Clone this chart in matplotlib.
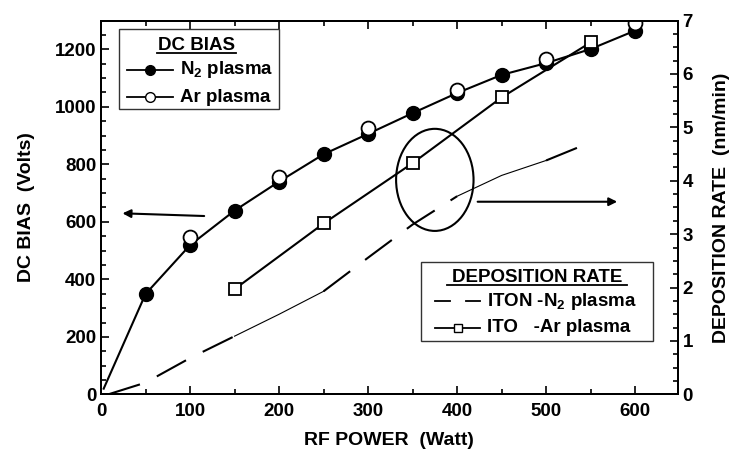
import numpy as np
import matplotlib
matplotlib.use('Agg')
import matplotlib.pyplot as plt
from matplotlib.patches import Ellipse, Rectangle
from matplotlib.lines import Line2D
from matplotlib.ticker import MultipleLocator

plt.rcParams['font.family'] = 'Liberation Sans'
plt.rcParams['font.weight'] = 'bold'
plt.rcParams['axes.labelweight'] = 'bold'
plt.rcParams['mathtext.fontset'] = 'custom'
plt.rcParams['mathtext.rm'] = 'Liberation Sans:bold'
plt.rcParams['mathtext.bf'] = 'Liberation Sans:bold'

# DC bias (left axis)
n2_power = [3, 50, 100, 150, 200, 250, 300, 350, 400, 450, 500, 550, 600]
n2_bias = [20, 349, 519, 639, 740, 835, 906, 978, 1048, 1111, 1152, 1201, 1265]
ar_power = [100, 200, 300, 400, 500, 600]
ar_bias = [546, 755, 925, 1059, 1168, 1291]

# deposition rate (right axis)
iton_power = [8, 50, 100, 150, 200, 250, 300, 350, 400, 450, 500, 550]
iton_rate = [0.0, 0.22, 0.68, 1.09, 1.50, 1.93, 2.56, 3.18, 3.71, 4.10, 4.38, 4.72]
ito_power = [150, 250, 350, 450, 550]
ito_rate = [1.97, 3.20, 4.33, 5.56, 6.59]

W, H = 732, 457
fig = plt.figure(figsize=(W / 100, H / 100), dpi=100)
ax = fig.add_axes([0.138, 0.137, 0.788, 0.818])
ax2 = ax.twinx()

def fx(p):
    return p / W

def fy(p):
    return 1 - p / H

# DC bias curves
ax.plot(n2_power, n2_bias, '-', color='k', lw=1.5, marker='o', ms=10,
        mfc='k', mec='k', markevery=range(1, len(n2_power)), zorder=3)
ax.plot(ar_power, ar_bias, ls='none', marker='o', ms=10,
        mfc='white', mec='k', mew=1.3, zorder=4)

# deposition rate curves
dash = (0, (16, 9))
ax2.plot(iton_power[:4], iton_rate[:4], color='k', lw=1.5, ls=dash)
ax2.plot(iton_power[3:6], iton_rate[3:6], color='k', lw=0.8)
ax2.plot(iton_power[5:9], iton_rate[5:9], color='k', lw=1.5, ls=dash)
ax2.plot(iton_power[8:11], iton_rate[8:11], color='k', lw=0.8)
ax2.plot(iton_power[10:], iton_rate[10:], color='k', lw=1.5, ls=dash)
ax2.plot(ito_power, ito_rate, '-', color='k', lw=1.5, marker='s', ms=9,
         mfc='white', mec='k', mew=1.3)

# ellipse and arrows
ax.add_patch(Ellipse((375, 746), 87, 355, fill=False, lw=1.5, color='k'))
ax.annotate('', xy=(21, 630), xytext=(119, 620),
            arrowprops=dict(arrowstyle='-|>', lw=1.5, color='k', mutation_scale=12))
ax.annotate('', xy=(583, 670), xytext=(420, 670),
            arrowprops=dict(arrowstyle='-|>', lw=1.5, color='k', mutation_scale=12))

# axes
ax.set_xlim(0, 648)
ax.set_ylim(0, 1300)
ax2.set_ylim(0, 7)
ax.xaxis.set_major_locator(MultipleLocator(100))
ax.xaxis.set_minor_locator(MultipleLocator(50))
ax.yaxis.set_major_locator(MultipleLocator(200))
ax.yaxis.set_minor_locator(MultipleLocator(50))
ax2.yaxis.set_major_locator(MultipleLocator(1))
ax2.yaxis.set_minor_locator(MultipleLocator(0.25))
for a in (ax, ax2):
    a.tick_params(which='both', direction='in', width=1.2, labelsize=13.5)
    a.tick_params(which='major', length=6)
    a.tick_params(which='minor', length=3.5)
    for s in a.spines.values():
        s.set_linewidth(1.4)
ax.tick_params(which='both', top=True, right=False)
ax.tick_params(which='major', axis='x', pad=6)

ax.set_xlabel('RF POWER  (Watt)', fontsize=14, labelpad=9)
ax.set_ylabel('DC BIAS  (Volts)', fontsize=14, labelpad=14)
ax2.set_ylabel('DEPOSITION RATE  (nm/min)', fontsize=14, labelpad=14)

# legend: DC BIAS
fig.add_artist(Rectangle((fx(119), fy(109)), fx(279) - fx(119), fy(29) - fy(109),
                         transform=fig.transFigure, fill=True, fc='white',
                         ec='#333333', lw=1.0))
fig.text(fx(196), fy(45), 'DC BIAS', ha='center', va='center', fontsize=13.5)
fig.add_artist(Line2D([fx(157), fx(236)], [fy(53), fy(53)], color='k', lw=1.3,
                      transform=fig.transFigure))
for yy, fc, lab in [(70, 'k', 'N$_2$ plasma'), (97, 'white', 'Ar plasma')]:
    fig.add_artist(Line2D([fx(127), fx(173)], [fy(yy), fy(yy)], color='k', lw=1.3,
                          transform=fig.transFigure))
    fig.add_artist(Line2D([fx(150)], [fy(yy)], marker='o', ms=7, mfc=fc, mec='k',
                          mew=1.0, transform=fig.transFigure))
    fig.text(fx(180), fy(yy), lab, ha='left', va='center', fontsize=13.5)

# legend: DEPOSITION RATE
fig.add_artist(Rectangle((fx(421), fy(341)), fx(653) - fx(421), fy(262) - fy(341),
                         transform=fig.transFigure, fill=True, fc='white',
                         ec='#333333', lw=1.0))
fig.text(fx(537), fy(277), 'DEPOSITION RATE', ha='center', va='center', fontsize=13.5)
fig.add_artist(Line2D([fx(447), fx(627)], [fy(285), fy(285)], color='k', lw=1.3,
                      transform=fig.transFigure))
fig.add_artist(Line2D([fx(435), fx(450)], [fy(301), fy(301)], color='k', lw=1.3,
                      transform=fig.transFigure))
fig.add_artist(Line2D([fx(466), fx(480)], [fy(301), fy(301)], color='k', lw=1.3,
                      transform=fig.transFigure))
fig.text(fx(487), fy(301), 'ITON -N$_2$ plasma', ha='left', va='center', fontsize=13.5)
fig.add_artist(Line2D([fx(435), fx(480)], [fy(328), fy(328)], color='k', lw=1.3,
                      transform=fig.transFigure))
fig.add_artist(Line2D([fx(458)], [fy(328)], marker='s', ms=6, mfc='white', mec='k',
                      mew=1.0, transform=fig.transFigure))
fig.text(fx(487), fy(328), 'ITO   -Ar plasma', ha='left', va='center', fontsize=13.5)

fig.savefig('out.png', dpi=100)
